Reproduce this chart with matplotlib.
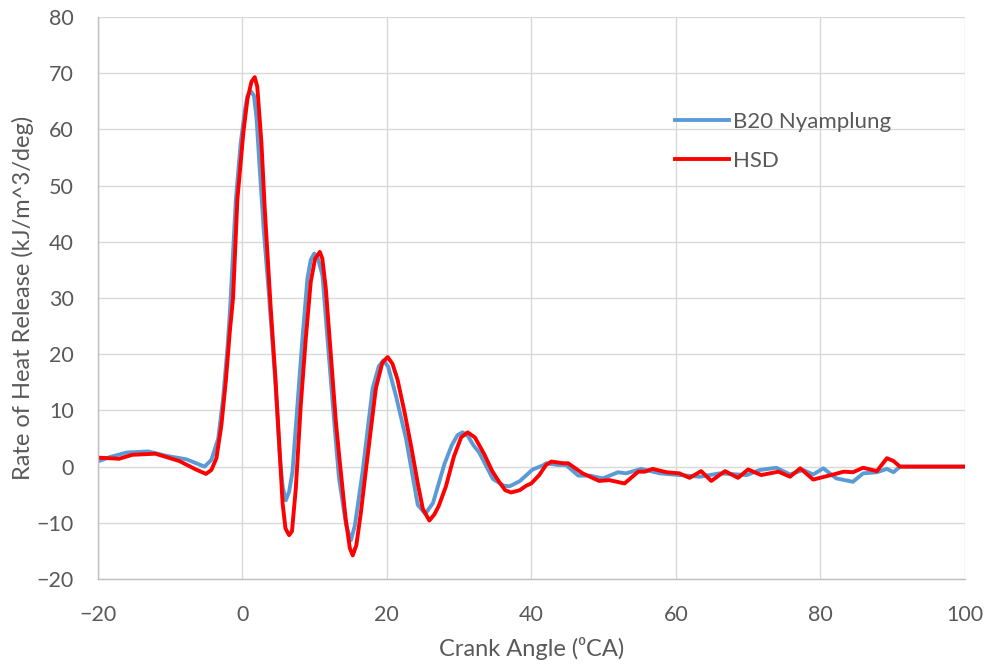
import numpy as np
import matplotlib
matplotlib.use('Agg')
import matplotlib.pyplot as plt

# Crank angle (deg) / heat release rate values
b20_angle = [-20, -18.3, -16, -13, -10.4, -7.7, -5.2, -4.25, -3.3, -2.63, -2.03, -1.66,
             -0.86, -0.2, 0.4, 0.74, 1.2, 1.64, 2.0, 2.35, 3.0, 3.75, 4.6, 5.2, 5.6,
             6.04, 6.5, 6.97, 7.66, 8.35, 9.04, 9.5, 9.97, 10.5, 11.12, 11.81, 12.74,
             13.4, 14.4, 15.05, 15.6, 16.67, 18.05, 18.9, 19.53, 20.2, 21.3, 22.67,
             24.3, 25.34, 26.4, 27.2, 28.0, 29.0, 29.8, 30.5, 31.2, 32.0, 32.8, 34.7,
             36.2, 37.0, 38.4, 40.2, 41.6, 42.1, 43.7, 44.8, 46.5, 48.1, 49.9, 52.0,
             53.1, 55.2, 57.8, 63.3, 66.1, 69.8, 71.6, 73.9, 75.8, 77.6, 79.0, 80.4,
             82.2, 84.5, 85.9, 87.8, 89.2, 90.1, 91.0, 100]
b20_hrr = [0.9, 1.7, 2.5, 2.7, 1.9, 1.3, 0.0, 1.2, 5.0, 12.1, 21.0, 28.0,
           47.6, 57.5, 63.5, 66.0, 66.8, 66.0, 62.0, 54.8, 42.0, 30.0, 15.0, 2.0, -3.5,
           -6.0, -4.5, -0.9, 11.0, 22.8, 33.5, 36.8, 37.9, 37.0, 34.0, 22.8, 8.0,
           -2.0, -10.5, -13.1, -10.5, -0.9, 13.9, 17.8, 18.9, 17.8, 12.5, 5.0,
           -6.8, -8.4, -6.5, -3.0, 0.5, 3.8, 5.6, 6.1, 5.5, 3.8, 2.5, -2.2,
           -3.4, -3.5, -2.6, -0.5, 0.2, 0.6, 0.3, 0.3, -1.6, -1.6, -2.1, -1.0,
           -1.2, -0.4, -1.2, -1.8, -1.2, -1.5, -0.6, -0.2, -1.4, -0.6, -1.4, -0.3,
           -2.1, -2.7, -1.2, -1.0, -0.4, -1.0, 0.0, 0.0]

hsd_angle = [-20, -17, -15.2, -12, -8.7, -6.4, -5.0, -4.25, -3.55, -2.86, -2.26, -1.7,
             -1.25, -0.65, 0.18, 0.74, 1.3, 1.75, 2.1, 2.68, 3.14, 3.97, 4.6, 5.1, 5.6,
             6.0, 6.5, 6.9, 7.43, 8.12, 8.81, 9.5, 10.1, 10.75, 11.1, 11.58, 12.28,
             12.97, 13.5, 14.3, 14.9, 15.3, 15.8, 16.4, 17.1, 18.5, 19.4, 20.13, 20.8,
             21.5, 22.5, 23.4, 24.3, 25.0, 25.9, 26.6, 27.2, 28.2, 29.3, 30.3, 31.2,
             32.2, 33.5, 34.6, 35.6, 36.4, 37.2, 38.4, 39.3, 40.0, 41.1, 42.05, 42.8,
             44.4, 45.1, 47.1, 49.4, 50.8, 52.9, 54.8, 55.7, 56.8, 58.7, 60.5, 61.9,
             63.5, 64.9, 66.8, 68.6, 70.0, 71.8, 74.2, 75.8, 77.2, 79.0, 81.8, 83.2,
             84.5, 85.9, 87.8, 89.2, 90.1, 91.0, 100]
hsd_hrr = [1.6, 1.4, 2.1, 2.3, 1.0, -0.5, -1.3, -0.6, 1.5, 7.4, 15.1, 24.0,
           30.0, 47.6, 59.5, 65.4, 68.5, 69.3, 67.6, 57.5, 45.7, 28.0, 16.0, 5.0, -6.5,
           -11.0, -12.2, -11.5, -3.9, 11.0, 22.8, 32.9, 37.0, 38.2, 37.0, 31.7, 19.8,
           8.0, 1.0, -9.0, -14.5, -15.8, -14.0, -8.5, -0.9, 13.9, 18.5, 19.5, 18.3,
           15.5, 9.5, 3.5, -3.0, -7.5, -9.6, -8.5, -7.0, -3.5, 1.8, 5.2, 6.1,
           5.2, 2.2, -0.8, -2.8, -4.2, -4.6, -4.2, -3.4, -3.0, -1.5, 0.3, 0.9,
           0.6, 0.6, -1.2, -2.55, -2.4, -3.0, -0.9, -0.9, -0.4, -1.0, -1.2, -2.0,
           -0.8, -2.55, -0.8, -2.0, -0.5, -1.5, -0.9, -1.8, -0.3, -2.3, -1.4, -0.9,
           -1.0, -0.2, -0.8, 1.5, 1.0, 0.0, 0.0]

x_ticks = np.arange(-20, 101, 20)
y_ticks = np.arange(-20, 81, 10)

text_grey = '#595959'
plt.rcParams['font.family'] = ['Lato', 'DejaVu Sans']

fig = plt.figure(figsize=(9.92, 6.65), dpi=100)
ax = fig.add_axes([0.0983, 0.1293, 0.8745, 0.8451])

ax.plot(b20_angle, b20_hrr, color='#5B9BD5', lw=2.8, label='B20 Nyamplung', solid_joinstyle='round')
ax.plot(hsd_angle, hsd_hrr, color='#FF0000', lw=2.8, label='HSD', solid_joinstyle='round')

ax.set_xlim(-20, 100)
ax.set_ylim(-20, 80)
ax.set_xticks(x_ticks)
ax.set_yticks(y_ticks)
ax.grid(True, color='#d9d9d9', lw=1.0)
ax.set_axisbelow(True)
for side in ['top', 'right']:
    ax.spines[side].set_visible(False)
for side in ['left', 'bottom']:
    ax.spines[side].set_color('#bfbfbf')
    ax.spines[side].set_linewidth(1.0)
ax.tick_params(length=0, labelsize=15.5, labelcolor=text_grey)
ax.tick_params(axis='x', pad=19)
ax.tick_params(axis='y', pad=17)

ax.set_xlabel('Crank Angle (\u2070CA)', fontsize=17, color=text_grey)
ax.set_ylabel('Rate of Heat Release (kJ/m^3/deg)', fontsize=17, color=text_grey)
ax.xaxis.set_label_coords(0.5, -0.103)
ax.yaxis.set_label_coords(-0.073, 0.5)

ax.legend(loc='upper left', bbox_to_anchor=(0.666, 0.831), frameon=False, fontsize=16,
          labelcolor=text_grey, handlelength=2.4, handletextpad=0.22, labelspacing=0.85,
          borderpad=0, borderaxespad=0)

fig.savefig('out.png', dpi=100)
